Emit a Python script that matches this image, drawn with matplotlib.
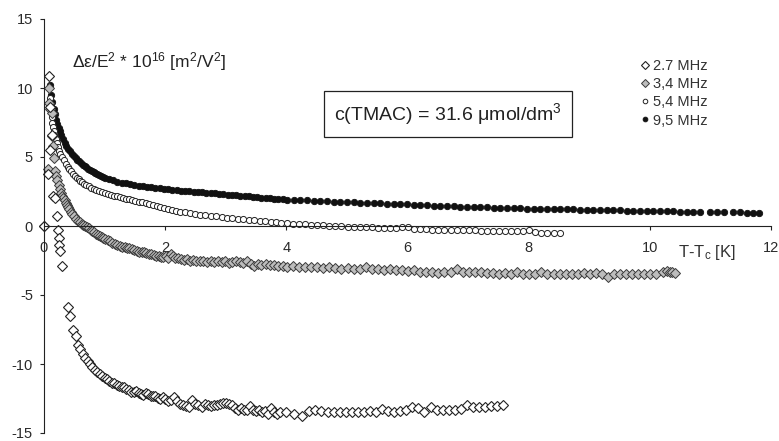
import numpy as np
import matplotlib
matplotlib.use("Agg")
import matplotlib.pyplot as plt

plt.rcParams["font.family"] = ["Liberation Sans", "DejaVu Sans"]
plt.rcParams["mathtext.fontset"] = "custom"
plt.rcParams["mathtext.rm"] = "Liberation Sans"
plt.rcParams["mathtext.it"] = "Liberation Sans:italic"
plt.rcParams["axes.unicode_minus"] = False

# (T-Tc [K], delta_eps/E^2 * 1e16)
pts_27 = [(0, 0), (0.08, 10.85), (0.10, 8.6), (0.13, 6.6), (0.10, 5.5), (0.06, 3.75),
          (0.15, 2.15), (0.18, 2.0), (0.21, 0.75), (0.23, -0.3), (0.24, -0.85), (0.25, -1.35),
          (0.26, -1.8), (0.29, -2.9),
          (0.40, -5.9), (0.43, -6.5), (0.48, -7.5), (0.52, -7.95), (0.56, -8.6), (0.60, -8.9),
          (0.64, -9.3), (0.68, -9.6), (0.72, -9.8), (0.76, -10.0), (0.80, -10.2), (0.84, -10.4),
          (0.88, -10.6), (0.92, -10.7), (0.96, -10.85), (1.00, -11.0), (1.04, -11.1), (1.08, -11.2),
          (1.12, -11.35), (1.16, -11.4), (1.20, -11.5), (1.24, -11.6), (1.28, -11.65), (1.32, -11.7),
          (1.36, -11.8), (1.40, -11.9), (1.44, -12.0), (1.48, -12.05), (1.52, -11.95), (1.56, -12.1),
          (1.60, -12.2), (1.64, -12.25), (1.68, -12.1), (1.72, -12.2), (1.76, -12.3), (1.80, -12.35),
          (1.84, -12.3), (1.88, -12.45), (1.92, -12.5), (1.96, -12.4), (2.00, -12.55), (2.05, -12.7),
          (2.10, -12.6), (2.15, -12.4), (2.20, -12.7), (2.25, -12.9), (2.30, -12.95), (2.35, -13.05),
          (2.40, -13.1), (2.45, -12.6), (2.50, -12.9), (2.55, -13.0), (2.60, -13.15), (2.65, -12.9),
          (2.70, -13.0), (2.75, -13.05), (2.80, -13.0), (2.85, -12.95), (2.90, -12.9), (2.95, -12.85),
          (3.00, -12.8), (3.05, -12.9), (3.10, -13.0), (3.15, -13.2), (3.20, -13.3), (3.25, -13.2),
          (3.30, -13.35), (3.35, -13.3), (3.40, -13.05), (3.45, -13.3), (3.50, -13.4), (3.55, -13.35),
          (3.60, -13.5), (3.65, -13.4), (3.70, -13.6), (3.75, -13.2), (3.80, -13.5), (3.85, -13.6),
          (3.90, -13.5), (4.00, -13.45), (4.12, -13.6), (4.26, -13.8), (4.38, -13.4), (4.48, -13.3),
          (4.58, -13.4), (4.68, -13.5), (4.78, -13.45), (4.88, -13.5), (4.98, -13.5), (5.08, -13.45),
          (5.18, -13.5), (5.28, -13.45), (5.38, -13.4), (5.48, -13.45), (5.58, -13.25), (5.68, -13.4),
          (5.78, -13.45), (5.88, -13.4), (5.98, -13.3), (6.08, -13.1), (6.18, -13.2), (6.28, -13.5),
          (6.38, -13.1), (6.48, -13.3), (6.58, -13.35), (6.68, -13.3), (6.78, -13.35), (6.88, -13.25),
          (6.98, -13.0), (7.08, -13.1), (7.18, -13.1), (7.28, -13.1), (7.38, -13.05), (7.48, -13.05),
          (7.58, -13.0)]

pts_34 = [(0, 0), (0.09, 10.0), (0.09, 8.9), (0.10, 8.5), (0.13, 8.2), (0.14, 6.5), (0.15, 5.8),
          (0.16, 4.9), (0.06, 4.1), (0.18, 4.0),
          (0.20, 3.6), (0.22, 3.3), (0.24, 3.0), (0.26, 2.7), (0.28, 2.4), (0.30, 2.2), (0.32, 2.0),
          (0.34, 1.85), (0.36, 1.7), (0.38, 1.5), (0.40, 1.35), (0.42, 1.2), (0.44, 1.05), (0.47, 0.9),
          (0.50, 0.7), (0.53, 0.5), (0.56, 0.38), (0.59, 0.28), (0.62, 0.18), (0.65, 0.08), (0.68, 0.0),
          (0.71, -0.1), (0.74, -0.18), (0.77, -0.27), (0.80, -0.35), (0.83, -0.45), (0.86, -0.55),
          (0.89, -0.65), (0.92, -0.72), (0.95, -0.8), (0.98, -0.88), (1.01, -0.93), (1.05, -1.0),
          (1.09, -1.1), (1.13, -1.2), (1.17, -1.28), (1.21, -1.35), (1.25, -1.42), (1.29, -1.5),
          (1.33, -1.55), (1.37, -1.58), (1.41, -1.63), (1.45, -1.7), (1.49, -1.74), (1.53, -1.8),
          (1.57, -1.85), (1.61, -1.88), (1.65, -1.92), (1.69, -1.97), (1.73, -2.02), (1.77, -2.06),
          (1.81, -2.1), (1.85, -2.15), (1.89, -2.2), (1.93, -2.22), (1.97, -2.25), (2.01, -2.2),
          (2.05, -2.3), (2.09, -2.05), (2.13, -2.15), (2.17, -2.3), (2.21, -2.35), (2.26, -2.38),
          (2.31, -2.45), (2.36, -2.4), (2.41, -2.5), (2.46, -2.45), (2.51, -2.5), (2.57, -2.55),
          (2.63, -2.5), (2.69, -2.6), (2.75, -2.55), (2.81, -2.6), (2.87, -2.5), (2.93, -2.6),
          (2.99, -2.55), (3.05, -2.65), (3.11, -2.6), (3.17, -2.5), (3.23, -2.62), (3.29, -2.65),
          (3.35, -2.55), (3.41, -2.75), (3.47, -2.9), (3.53, -2.75), (3.59, -2.8), (3.66, -2.75),
          (3.73, -2.85), (3.80, -2.8), (3.87, -2.9), (3.94, -2.9), (4.01, -2.95), (4.11, -2.9),
          (4.21, -3.0), (4.31, -2.95), (4.41, -3.0), (4.51, -3.0), (4.61, -3.05), (4.71, -3.0),
          (4.81, -3.05), (4.91, -3.1), (5.01, -3.05), (5.11, -3.1), (5.21, -3.15), (5.31, -3.0),
          (5.41, -3.15), (5.51, -3.1), (5.61, -3.2), (5.71, -3.15), (5.81, -3.2), (5.91, -3.2),
          (6.01, -3.25), (6.11, -3.2), (6.21, -3.3), (6.31, -3.35), (6.41, -3.3), (6.51, -3.4),
          (6.61, -3.35), (6.71, -3.3), (6.81, -3.1), (6.91, -3.3), (7.01, -3.35), (7.11, -3.3),
          (7.21, -3.35), (7.31, -3.4), (7.41, -3.4), (7.51, -3.45), (7.61, -3.4), (7.71, -3.45),
          (7.81, -3.35), (7.91, -3.45), (8.01, -3.5), (8.11, -3.45), (8.21, -3.35), (8.31, -3.45),
          (8.41, -3.5), (8.51, -3.45), (8.61, -3.5), (8.71, -3.45), (8.81, -3.5), (8.91, -3.4),
          (9.01, -3.45), (9.11, -3.4), (9.21, -3.5), (9.31, -3.7), (9.41, -3.45), (9.51, -3.5),
          (9.61, -3.45), (9.71, -3.5), (9.81, -3.5), (9.91, -3.45), (10.01, -3.5), (10.11, -3.45),
          (10.21, -3.3), (10.28, -3.25), (10.33, -3.3), (10.37, -3.35), (10.41, -3.4)]

pts_54 = [(0, 0), (0.10, 9.3), (0.11, 8.8), (0.12, 8.3), (0.13, 7.9), (0.14, 7.5), (0.15, 7.2),
          (0.16, 6.9), (0.17, 6.6), (0.19, 6.3), (0.21, 6.0), (0.23, 5.7), (0.25, 5.45), (0.27, 5.25),
          (0.30, 5.0), (0.33, 4.75), (0.36, 4.5), (0.39, 4.3), (0.42, 4.1), (0.45, 3.95), (0.48, 3.8),
          (0.51, 3.65), (0.54, 3.5), (0.57, 3.38), (0.60, 3.27), (0.63, 3.17), (0.66, 3.07),
          (0.70, 2.97), (0.74, 2.87), (0.78, 2.78), (0.82, 2.7), (0.86, 2.62), (0.90, 2.55),
          (0.95, 2.47), (1.00, 2.4), (1.05, 2.33), (1.10, 2.27), (1.15, 2.2), (1.20, 2.14),
          (1.25, 2.08), (1.30, 2.03), (1.35, 1.98), (1.40, 1.93), (1.45, 1.88), (1.50, 1.83),
          (1.56, 1.77), (1.62, 1.71), (1.68, 1.65), (1.74, 1.58), (1.80, 1.5), (1.86, 1.46),
          (1.92, 1.4), (1.98, 1.3), (2.04, 1.22), (2.11, 1.15), (2.18, 1.08), (2.25, 1.03),
          (2.33, 0.98), (2.41, 0.93), (2.49, 0.88), (2.57, 0.83), (2.66, 0.78), (2.75, 0.74),
          (2.84, 0.69), (2.93, 0.65), (3.02, 0.61), (3.11, 0.57), (3.20, 0.54), (3.29, 0.5),
          (3.38, 0.45), (3.47, 0.42), (3.56, 0.38), (3.65, 0.35), (3.74, 0.31), (3.83, 0.28),
          (3.92, 0.24), (4.01, 0.21), (4.11, 0.17), (4.21, 0.13), (4.31, 0.11), (4.41, 0.08),
          (4.51, 0.06), (4.61, 0.04), (4.71, 0.02), (4.81, 0.0), (4.91, -0.02), (5.01, -0.04),
          (5.11, -0.05), (5.21, -0.07), (5.31, -0.09), (5.41, -0.1), (5.51, -0.12), (5.61, -0.14),
          (5.71, -0.12), (5.81, -0.15), (5.91, -0.1), (6.01, -0.1), (6.11, -0.22), (6.21, -0.24),
          (6.31, -0.25), (6.41, -0.26), (6.51, -0.27), (6.61, -0.28), (6.71, -0.29), (6.81, -0.3),
          (6.91, -0.3), (7.01, -0.31), (7.11, -0.32), (7.21, -0.33), (7.31, -0.33), (7.41, -0.34),
          (7.51, -0.35), (7.61, -0.35), (7.71, -0.36), (7.81, -0.37), (7.91, -0.37), (8.01, -0.3),
          (8.11, -0.45), (8.21, -0.5), (8.31, -0.5), (8.41, -0.52), (8.51, -0.5)]

pts_95 = [(0, 0), (0.10, 10.2), (0.12, 9.5), (0.14, 9.0), (0.16, 8.5), (0.18, 8.1), (0.20, 7.7),
          (0.22, 7.4), (0.24, 7.1), (0.26, 6.85), (0.28, 6.6), (0.31, 6.3), (0.34, 6.05), (0.37, 5.8),
          (0.40, 5.6), (0.43, 5.4), (0.46, 5.25), (0.49, 5.1), (0.52, 4.95), (0.55, 4.8), (0.58, 4.7),
          (0.61, 4.55), (0.64, 4.45), (0.67, 4.35), (0.70, 4.25), (0.73, 4.15), (0.76, 4.05),
          (0.79, 3.97), (0.82, 3.9), (0.85, 3.82), (0.88, 3.75), (0.91, 3.68), (0.94, 3.62),
          (0.97, 3.56), (1.00, 3.5), (1.07, 3.4), (1.14, 3.3), (1.21, 3.22), (1.28, 3.15),
          (1.35, 3.08), (1.42, 3.02), (1.49, 2.97), (1.56, 2.92), (1.63, 2.88), (1.70, 2.83),
          (1.77, 2.8), (1.84, 2.76), (1.91, 2.72), (1.98, 2.69), (2.05, 2.66), (2.12, 2.63),
          (2.19, 2.6), (2.26, 2.57), (2.33, 2.54), (2.40, 2.51), (2.47, 2.49), (2.54, 2.46),
          (2.61, 2.44), (2.68, 2.41), (2.75, 2.39), (2.82, 2.37), (2.89, 2.34), (2.96, 2.32),
          (3.03, 2.28), (3.10, 2.25), (3.17, 2.22), (3.24, 2.19), (3.31, 2.17), (3.38, 2.14),
          (3.45, 2.11), (3.52, 2.09), (3.59, 2.06), (3.66, 2.04), (3.73, 2.01), (3.80, 1.99),
          (3.87, 1.96), (3.94, 1.94), (4.01, 1.92), (4.12, 1.89), (4.23, 1.87), (4.34, 1.85),
          (4.45, 1.83), (4.56, 1.81), (4.67, 1.79), (4.78, 1.77), (4.89, 1.75), (5.00, 1.73),
          (5.11, 1.71), (5.22, 1.69), (5.33, 1.67), (5.44, 1.65), (5.55, 1.64), (5.66, 1.62),
          (5.77, 1.6), (5.88, 1.58), (5.99, 1.56), (6.10, 1.54), (6.21, 1.52), (6.32, 1.5),
          (6.43, 1.48), (6.54, 1.46), (6.65, 1.45), (6.76, 1.43), (6.87, 1.41), (6.98, 1.4),
          (7.09, 1.38), (7.20, 1.37), (7.31, 1.35), (7.42, 1.33), (7.53, 1.32), (7.64, 1.3),
          (7.75, 1.29), (7.86, 1.27), (7.97, 1.26), (8.08, 1.25), (8.19, 1.24), (8.30, 1.23),
          (8.41, 1.22), (8.52, 1.21), (8.63, 1.2), (8.74, 1.2), (8.85, 1.19), (8.96, 1.18),
          (9.07, 1.17), (9.18, 1.16), (9.29, 1.15), (9.40, 1.14), (9.51, 1.13), (9.62, 1.12),
          (9.73, 1.11), (9.84, 1.1), (9.95, 1.09), (10.06, 1.08), (10.17, 1.07), (10.28, 1.07),
          (10.39, 1.06), (10.50, 1.05), (10.61, 1.04), (10.72, 1.03), (10.83, 1.03), (11.00, 1.01),
          (11.11, 1.0), (11.22, 1.0), (11.38, 0.98), (11.49, 0.98), (11.60, 0.97), (11.71, 0.96),
          (11.80, 0.96)]

labels = ["2.7 MHz", "3,4 MHz", "5,4 MHz", "9,5 MHz"]
xticks = [0, 2, 4, 6, 8, 10, 12]
yticks = [-15, -10, -5, 0, 5, 10, 15]

W, H = 779, 441
fig = plt.figure(figsize=(W / 100, H / 100), dpi=100)
ax = fig.add_axes([44 / W, 1 - 433 / H, (771 - 44) / W, (433 - 19) / H])

# drawing order: 9,5 at the back, 2.7 on top
styles = {
    "9,5 MHz": dict(marker="o", ms=4.6, mfc="#111111", mec="#111111", mew=0.6),
    "5,4 MHz": dict(marker="o", ms=4.4, mfc="white", mec="#222222", mew=0.7),
    "3,4 MHz": dict(marker="D", ms=5.3, mfc="#bdbdbd", mec="#3a3a3a", mew=0.7),
    "2.7 MHz": dict(marker="D", ms=5.3, mfc="white", mec="#222222", mew=0.8),
}
series = {"2.7 MHz": pts_27, "3,4 MHz": pts_34, "5,4 MHz": pts_54, "9,5 MHz": pts_95}
handles = {}
for lab in ["9,5 MHz", "5,4 MHz", "3,4 MHz", "2.7 MHz"]:
    x, y = np.array(series[lab]).T
    handles[lab], = ax.plot(x, y, ls="none", label=lab, clip_on=False, **styles[lab])

ax.set_xlim(0, 12)
ax.set_ylim(-15, 15)
ax.set_xticks(xticks)
ax.set_yticks(yticks)
ax.spines["bottom"].set_position(("data", 0))
for s in ["top", "right"]:
    ax.spines[s].set_visible(False)
for s in ["left", "bottom"]:
    ax.spines[s].set_linewidth(0.8)
    ax.spines[s].set_color("#222222")
ax.tick_params(axis="both", direction="out", length=3, width=0.8, color="#222222",
               labelsize=10.5, labelcolor="#2a2a2a")
ax.tick_params(axis="x", pad=8)
ax.tick_params(axis="y", pad=5)
ax.patch.set_visible(False)

fig.text(72 / W, 1 - 62 / H, r"Δε/E$^2$ * 10$^{16}$ [m$^2$/V$^2$]", fontsize=12.5,
         ha="left", va="center", color="#222222")
fig.text(678 / W, 1 - 252 / H, r"T-T$_\mathrm{c}$ [K]", fontsize=12,
         ha="left", va="center", color="#333333")
fig.text(448 / W, 1 - 114 / H, "c(TMAC) = 31.6 μmol/dm$^3$", fontsize=14,
         ha="center", va="center", color="#222222",
         bbox=dict(boxstyle="square,pad=0.5", fc="white", ec="#222222", lw=0.9))

leg = fig.legend([handles[l] for l in labels], labels, loc="upper left",
                 bbox_to_anchor=(634 / W, 1 - 52 / H), frameon=False, fontsize=10.5,
                 handlelength=0.5, handletextpad=0.3, labelspacing=0.28, borderpad=0,
                 markerscale=0.75, labelcolor="#333333")

fig.savefig("out.png", dpi=100)
